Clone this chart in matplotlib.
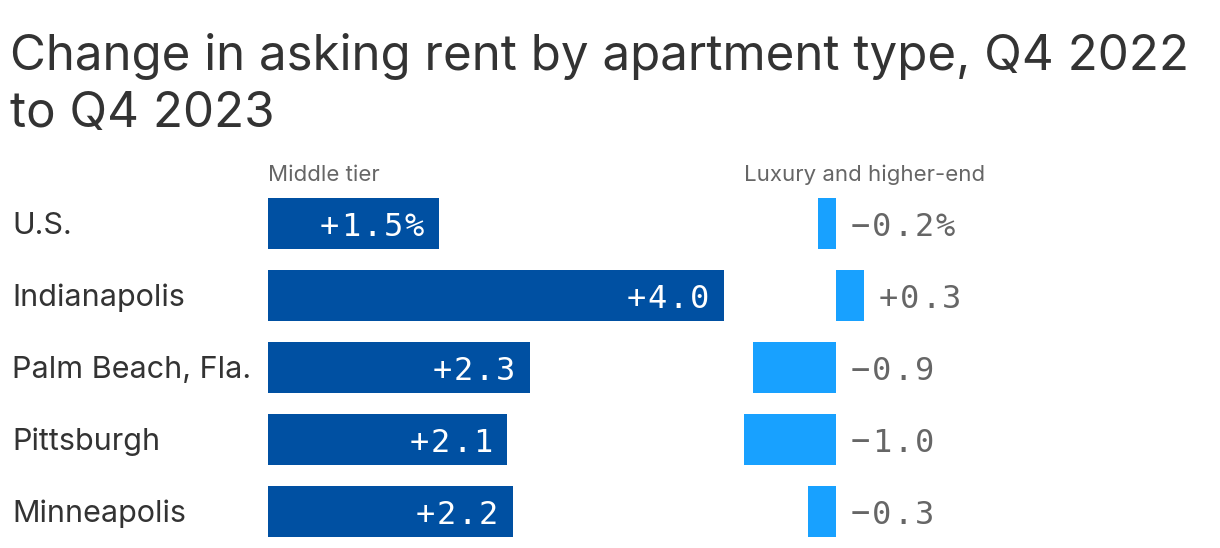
import numpy as np
import matplotlib.pyplot as plt

cities = ["U.S.", "Indianapolis", "Palm Beach, Fla.", "Pittsburgh", "Minneapolis"]
middle = [1.5, 4.0, 2.3, 2.1, 2.15]
luxury = [-0.2, 0.3, -0.9, -1.0, -0.3]
middle_labels = ["+1.5%", "+4.0", "+2.3", "+2.1", "+2.2"]
luxury_labels = ["\u22120.2%", "+0.3", "\u22120.9", "\u22121.0", "\u22120.3"]

W, H = 1220, 548
fig = plt.figure(figsize=(W / 100, H / 100), dpi=100)

def fx(px):
    return px / W

def fy(px):
    return 1 - px / H

def spaced(ax, x, y, s, side, pad=14, pitch=21.2, **kw):
    # draw a label one char at a time to get the wide letter spacing
    n = len(s)
    for k, ch in enumerate(s):
        if side == "right":
            off = -(n - k - 0.5) * pitch - pad
        else:
            off = (k + 0.5) * pitch + pad
        ax.annotate(ch, (x, y), xytext=(off * 0.72, 0), textcoords="offset points",
                    ha="center", va="center_baseline", fontsize=23,
                    family="DejaVu Sans Mono", annotation_clip=False, **kw)

top, bottom = 198, 537
y = np.arange(len(cities))
bh = 51 / 72

# middle tier panel
ax1 = fig.add_axes([fx(268), fy(bottom), fx(724 - 268), fy(top) - fy(bottom)])
ax1.barh(y, middle, height=bh, color="#0050a2")
ax1.set_xlim(0, 4.0)
ax1.set_ylim(len(cities) - 1 + bh / 2, -bh / 2)
for i, v in enumerate(middle):
    spaced(ax1, v, i, middle_labels[i], "right", color="white")
ax1.axis("off")

# luxury panel
ax2 = fig.add_axes([fx(744), fy(bottom), fx(863.6 - 744), fy(top) - fy(bottom)])
ax2.barh(y, luxury, height=bh, color="#18a1ff")
ax2.set_xlim(-1.0, 0.3)
ax2.set_ylim(len(cities) - 1 + bh / 2, -bh / 2)
for i, v in enumerate(luxury):
    spaced(ax2, max(v, 0), i, luxury_labels[i], "left", color="#666666")
ax2.axis("off")

# category labels
for i, c in enumerate(cities):
    fig.text(fx(12), fy(223 + 72 * i), c, ha="left", va="center_baseline",
             fontsize=22, color="#333333", family="Inter")

fig.text(fx(268), fy(175), "Middle tier", ha="left", va="center",
         fontsize=16, color="#666666", family="Inter")
fig.text(fx(744), fy(175), "Luxury and higher-end", ha="left", va="center",
         fontsize=16, color="#666666", family="Inter")

fig.text(fx(10), fy(127), "Change in asking rent by apartment type, Q4 2022\nto Q4 2023",
         ha="left", va="baseline", fontsize=35.5, color="#333333", family="Inter",
         linespacing=1.3)

fig.savefig("out.png", dpi=100)
